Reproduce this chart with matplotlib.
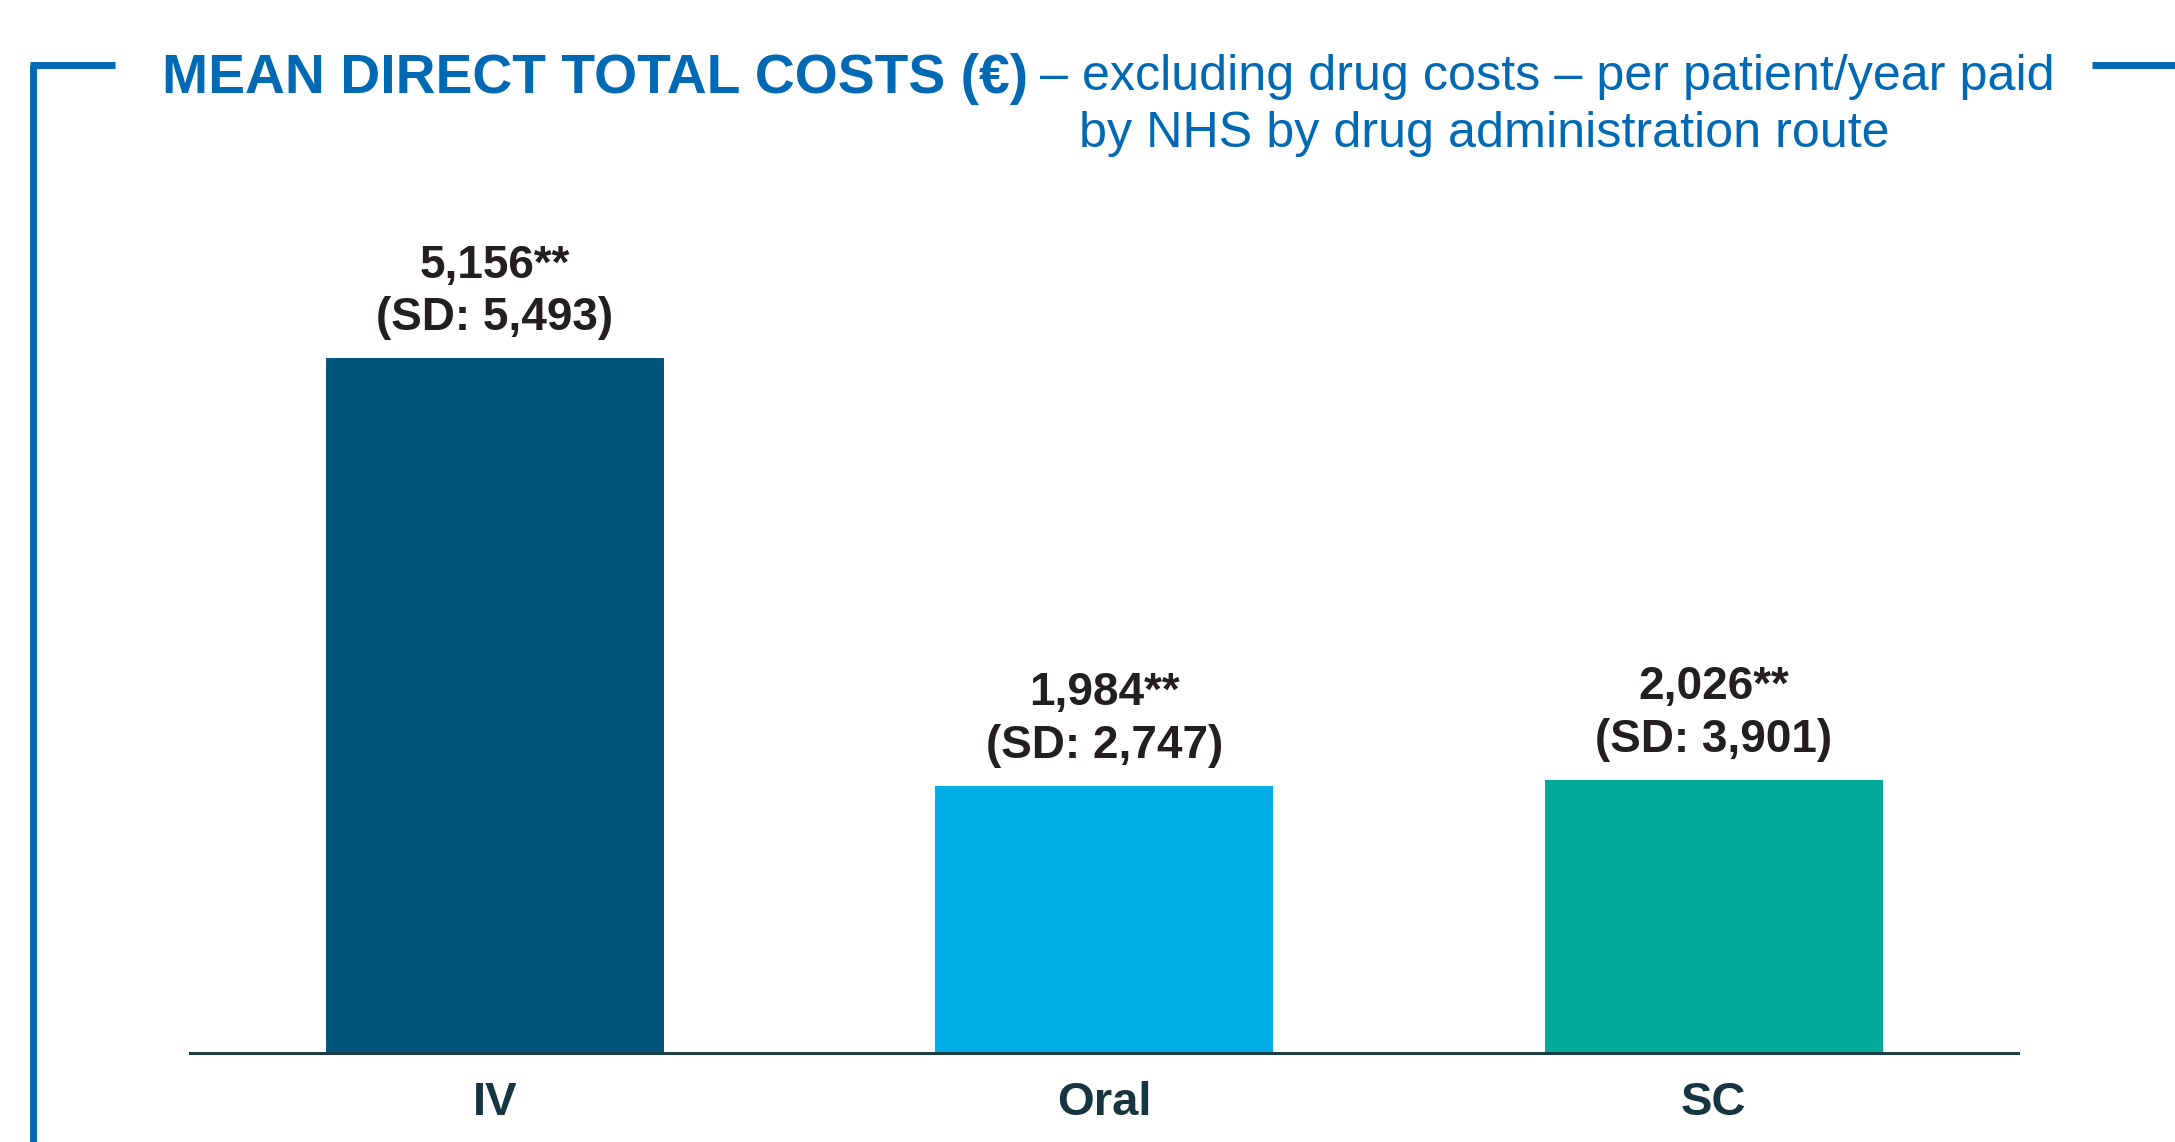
import matplotlib.pyplot as plt
from matplotlib.lines import Line2D

routes = ["IV", "Oral", "SC"]
mean_cost = [5156, 1984, 2026]
sd_cost = [5493, 2747, 3901]
value_labels = ["5,156**", "1,984**", "2,026**"]
sd_labels = ["(SD: 5,493)", "(SD: 2,747)", "(SD: 3,901)"]
bar_colors = ["#03557f", "#00ade6", "#00a99a"]

blue = "#0069b4"
dark = "#231f20"

plt.rcParams['font.family'] = ['Liberation Sans', 'DejaVu Sans']

fig = plt.figure(figsize=(21.75, 11.42), dpi=100)
ax = fig.add_axes([0.0874, 0.0779, 0.8406, 0.708])

x = range(len(routes))
ax.bar(x, mean_cost, width=0.555, color=bar_colors, zorder=2)

for i in x:
    ax.annotate(value_labels[i] + "\n" + sd_labels[i], (i, mean_cost[i]),
                xytext=(0, 13), textcoords="offset points",
                ha="center", va="bottom", fontsize=33, fontweight="bold",
                color=dark, linespacing=1.25)

ax.set_xlim(-0.5, 2.5)
ax.set_ylim(0, 6000)
ax.set_xticks(list(x))
ax.set_xticklabels(routes, fontsize=34, fontweight="bold", color="#163540")
ax.tick_params(axis="x", length=0, pad=20)
ax.set_yticks([])
for s in ["top", "right", "left"]:
    ax.spines[s].set_visible(False)
ax.spines["bottom"].set_color("#1d3c46")
ax.spines["bottom"].set_linewidth(2.2)

# frame lines round the title
fy = 1 - 65 / 1142
fig.add_artist(Line2D([33 / 2175, 33 / 2175], [0, fy], color=blue, lw=5,
                      solid_capstyle="butt"))
fig.add_artist(Line2D([30 / 2175, 115 / 2175], [fy, fy], color=blue, lw=5,
                      solid_capstyle="butt"))
fig.add_artist(Line2D([2092 / 2175, 1.0], [fy, fy], color=blue, lw=5,
                      solid_capstyle="butt"))

fig.text(162 / 2175, 1 - 93 / 1142, "MEAN DIRECT TOTAL COSTS (€)", fontsize=39.8,
         fontweight="bold", color=blue, va="baseline", ha="left")
fig.text(1040 / 2175, 1 - 90 / 1142, "– excluding drug costs – per patient/year paid",
         fontsize=36.2, color=blue, va="baseline", ha="left")
fig.text(1079 / 2175, 1 - 147 / 1142, "by NHS by drug administration route",
         fontsize=36.2, color=blue, va="baseline", ha="left")

fig.savefig("out.png", dpi=100)
